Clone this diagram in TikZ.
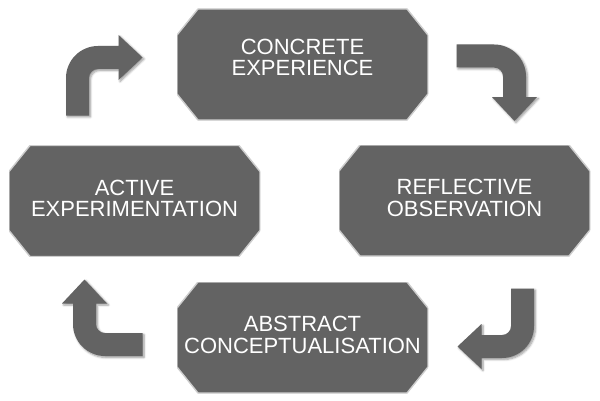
\documentclass[tikz,border=0pt]{standalone}
\usepackage{fontspec}
\setmainfont{Liberation Sans}
\usetikzlibrary{shadows.blur}
\definecolor{boxgray}{RGB}{99,99,99}
\definecolor{edgegray}{RGB}{205,205,205}
\tikzset{
  stagefill/.style={fill=boxgray, draw=edgegray, line width=1.4pt},
  stage/.style={rectangle, minimum width=251pt, minimum height=111pt, inner sep=0pt,
    text=white, align=center, text depth=5pt, font=\fontsize{22}{21.5}\selectfont,
    path picture={
      \filldraw[stagefill] ([xshift=21pt]path picture bounding box.north west)
        -- ([xshift=-21pt]path picture bounding box.north east)
        -- ([yshift=-26pt]path picture bounding box.north east)
        -- ([yshift=26pt]path picture bounding box.south east)
        -- ([xshift=-21pt]path picture bounding box.south east)
        -- ([xshift=21pt]path picture bounding box.south west)
        -- ([yshift=26pt]path picture bounding box.south west)
        -- ([yshift=-26pt]path picture bounding box.north west) -- cycle;}},
  turn/.style={fill=boxgray, blur shadow={shadow xshift=1.5pt, shadow yshift=-1.5pt, shadow blur steps=6, shadow opacity=40}}
}
\begin{document}
\begin{tikzpicture}[x=1pt,y=1pt]
    \useasboundingbox (0,0) rectangle (600,400);
    \node[stage, text depth=14pt] (ce) at (302.5,335.5) {CONCRETE\\EXPERIENCE};
    \node[stage] (ro) at (464.5,199.5) {REFLECTIVE\\OBSERVATION};
    \node[stage] (ac) at (302.5,62.5) {ABSTRACT\\CONCEPTUALISATION};
    \node[stage] (ae) at (134.5,199) {ACTIVE\\EXPERIMENTATION};
    % bent arrows between the stages
    \foreach \x/\y/\r in {514.5/344/0, 522.5/53.5/-90, 84.5/55.5/180, 77.5/342.5/90}
        \fill[turn, shift={(\x,\y)}, rotate=\r] (-58,11.5) -- (-20.5,11.5)
            arc[start angle=90, end angle=0, radius=32] -- (11.5,-41) -- (22.5,-41)
            -- (0,-65) -- (-22.5,-41) -- (-11.5,-41) -- (-11.5,-20.5)
            arc[start angle=0, end angle=90, radius=9] -- (-58,-11.5) -- cycle;
\end{tikzpicture}
\end{document}
